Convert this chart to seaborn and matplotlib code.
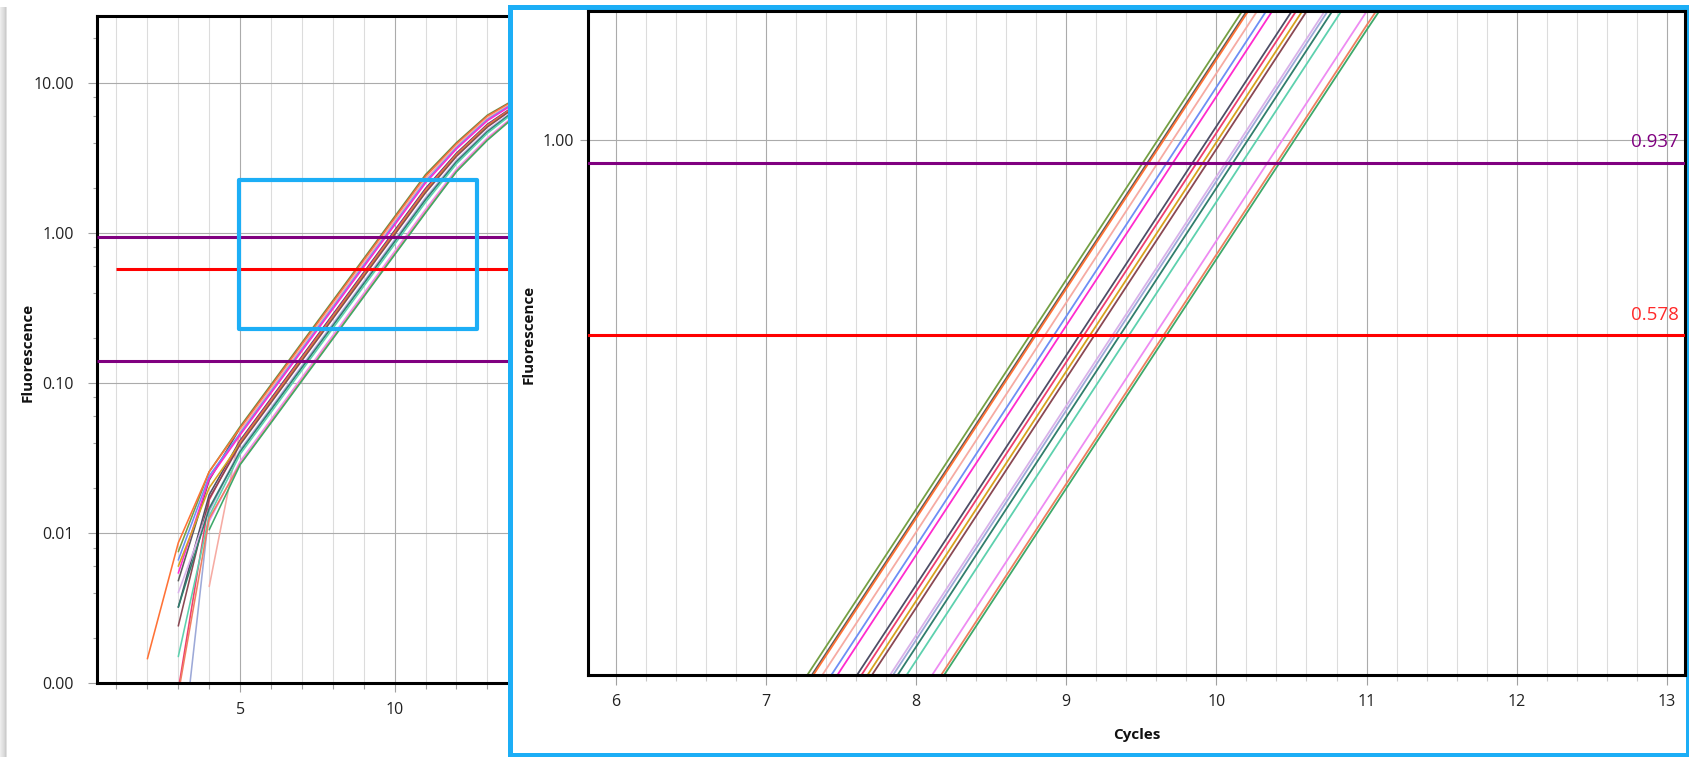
import numpy as np
import pandas as pd
import matplotlib
matplotlib.use("Agg")
import matplotlib.pyplot as plt
import matplotlib.transforms as mtransforms
from matplotlib.patches import Rectangle
from matplotlib.ticker import (FixedLocator, LogLocator, MultipleLocator,
                               FuncFormatter, NullLocator, NullFormatter)
import seaborn as sns

# ---------------------------------------------------------------------------
# Amplification data: fluorescence per cycle for each well (None = no point)
# ---------------------------------------------------------------------------
cycles = [2, 3, 4, 5, 6, 7, 8, 9, 10, 11, 12, 13, 14]

well_names = ["A1", "A2", "A3", "A4", "A5", "A6", "B1", "B2", "B3",
              "B4", "B5", "B6", "C1", "C2", "C3", "C4", "C5"]

A1 = [None, 0.0075, 0.0256, 0.0512, 0.0975, 0.186, 0.354, 0.675, 1.286, 2.45, 4.00, 6.10, 8.00]
A2 = [None, 0.0048, 0.0225, 0.0502, 0.0956, 0.1824, 0.3472, 0.662, 1.261, 2.403, 3.94, 6.02, 7.94]
A3 = [0.00145, 0.0086, 0.0256, 0.0499, 0.0950, 0.1813, 0.345, 0.658, 1.253, 2.388, 3.92, 6.00, 7.91]
A4 = [None, None, 0.0044, 0.0480, 0.0914, 0.1744, 0.3319, 0.6329, 1.206, 2.297, 3.81, 5.84, 7.78]
A5 = [None, 0.0066, 0.0240, 0.0462, 0.0879, 0.1678, 0.3193, 0.6089, 1.160, 2.210, 3.70, 5.70, 7.66]
A6 = [None, 0.0054, 0.0230, 0.0450, 0.0857, 0.1635, 0.3112, 0.5933, 1.130, 2.154, 3.63, 5.60, 7.57]
B1 = [None, 0.0032, 0.0180, 0.0414, 0.0788, 0.1503, 0.2861, 0.5456, 1.039, 1.980, 3.40, 5.30, 7.31]
B2 = [None, 0.0009, 0.0166, 0.0406, 0.0773, 0.1475, 0.2807, 0.5353, 1.020, 1.943, 3.35, 5.24, 7.25]
B3 = [None, 0.0060, 0.0200, 0.0396, 0.0753, 0.1437, 0.2735, 0.5216, 0.9937, 1.893, 3.29, 5.15, 7.17]
B4 = [None, 0.0024, 0.0170, 0.0388, 0.0739, 0.1410, 0.2683, 0.5116, 0.9746, 1.857, 3.24, 5.08, 7.12]
B5 = [None, 0.0040, 0.0146, 0.0359, 0.0684, 0.1305, 0.2483, 0.4735, 0.9021, 1.719, 3.05, 4.84, 6.89]
B6 = [None, 0.0002, 0.0140, 0.0355, 0.0675, 0.1288, 0.2451, 0.4674, 0.8906, 1.697, 3.02, 4.79, 6.85]
C1 = [None, 0.0032, 0.0146, 0.0348, 0.0662, 0.1263, 0.2404, 0.4585, 0.8735, 1.664, 2.98, 4.73, 6.80]
C2 = [None, 0.0015, 0.0130, 0.0335, 0.0637, 0.1215, 0.2313, 0.4411, 0.8404, 1.601, 2.89, 4.62, 6.68]
C3 = [None, None, 0.0120, 0.0300, 0.0571, 0.1089, 0.2073, 0.3953, 0.7531, 1.435, 2.66, 4.30, 6.38]
C4 = [None, 0.00085, 0.0125, 0.0288, 0.0549, 0.1048, 0.1994, 0.3802, 0.7244, 1.380, 2.58, 4.19, 6.28]
C5 = [None, None, 0.0105, 0.0285, 0.0542, 0.1034, 0.1969, 0.3754, 0.7152, 1.362, 2.56, 4.15, 6.25]

well_values = [A1, A2, A3, A4, A5, A6, B1, B2, B3, B4, B5, B6, C1, C2, C3, C4, C5]

well_colors = ["#74A044", "#5C5C5C", "#FF7236", "#F6ABA3", "#6E8EF5", "#FF2BCF",
               "#4E4E66", "#EE3F6E", "#D8A21E", "#8A4853", "#D9B2EA", "#9DA9D8",
               "#2F7E6C", "#5DD1AE", "#EE8BF2", "#F07F60", "#3DA96A"]

# Threshold levels
threshold_upper = 0.937
threshold_red = 0.578
threshold_lower = 0.141

y_tick_values = [0.001, 0.01, 0.1, 1.0, 10.0]

# ---------------------------------------------------------------------------
rows = []
for name, vals in zip(well_names, well_values):
    for c, v in zip(cycles, vals):
        if v is not None:
            rows.append({"well": name, "cycle": c, "fluorescence": v})
df = pd.DataFrame(rows)
palette = dict(zip(well_names, well_colors))

sns.set_theme(style="white")
plt.rcParams["font.family"] = ["Open Sans", "DejaVu Sans"]

W, H = 1690, 757
fig = plt.figure(figsize=(W / 100, H / 100), dpi=100, facecolor="white")

GRID_MAJOR = "#ABABAB"
GRID_MINOR = "#DCDCDC"
TXT = "#222222"
PURPLE = "#800080"
RED = "#FF0000"
BLUE = "#1CAEF6"


def px_box(left, top, right, bottom):
    return [left / W, 1 - bottom / H, (right - left) / W, (bottom - top) / H]


def style_spines(ax):
    for s in ax.spines.values():
        s.set_visible(True)
        s.set_color("black")
        s.set_linewidth(2.2)


# ---------------- main amplification plot ----------------
ax1 = fig.add_axes(px_box(97, 15.7, 595.6, 683))
ax1.set_zorder(0)
ax1.set_yscale("log")
sns.lineplot(data=df, x="cycle", y="fluorescence", hue="well", palette=palette,
             estimator=None, legend=False, linewidth=1.15, ax=ax1, zorder=2)
ax1.set_xlim(0.37, 16.5)
ax1.set_ylim(0.001, 28.05)
ax1.yaxis.set_major_locator(FixedLocator(y_tick_values))
ax1.yaxis.set_major_formatter(FuncFormatter(lambda v, p: f"{v:.2f}"))
ax1.yaxis.set_minor_locator(LogLocator(base=10, subs=(2, 4, 6, 8)))
ax1.yaxis.set_minor_formatter(NullFormatter())
ax1.xaxis.set_major_locator(MultipleLocator(5))
ax1.xaxis.set_minor_locator(MultipleLocator(1))
ax1.grid(which="major", axis="both", color=GRID_MAJOR, linewidth=0.8, zorder=0)
ax1.grid(which="minor", axis="x", color=GRID_MINOR, linewidth=0.8, zorder=0)
ax1.set_axisbelow(True)
ax1.tick_params(axis="y", which="major", direction="out", length=6.5, width=0.8,
                color="#A0A0A0", labelsize=11.5, labelcolor=TXT, pad=10, left=True)
ax1.tick_params(axis="y", which="minor", direction="out", length=3, width=0.8,
                color="#A0A0A0", left=True)
ax1.tick_params(axis="x", which="major", direction="out", length=6.5, width=0.8,
                color="#A0A0A0", labelsize=11.5, labelcolor=TXT, pad=7, bottom=True)
ax1.tick_params(axis="x", which="minor", direction="out", length=4, width=0.8,
                color="#A0A0A0", bottom=True)
ax1.set_xlabel("")
ax1.set_ylabel("")
style_spines(ax1)
ax1.spines["right"].set_visible(False)

ax1.hlines(threshold_upper, 0.37, 16.5, color=PURPLE, linewidth=2.2, zorder=4)
ax1.hlines(threshold_lower, 0.37, 16.5, color=PURPLE, linewidth=2.2, zorder=4)
ax1.hlines(threshold_red, 1.0, 16.5, color=RED, linewidth=2.2, zorder=4)

# zoom window outline on the main plot
ax1.add_patch(Rectangle((4.95, 0.2297), 12.67 - 4.95, 2.24 - 0.2297, fill=False,
                        edgecolor=BLUE, linewidth=3.0, joinstyle="round", zorder=5))

fig.text(28 / W, 1 - 352 / H, "Fluorescence", rotation=90, ha="center", va="center",
         fontsize=11, fontweight="bold", color="#111111")

# ---------------- zoom panel ----------------
fig.add_artist(Rectangle((510 / W, 1 - 755 / H), (1688 - 510) / W, (755 - 6.7) / H,
                         transform=fig.transFigure, facecolor="white", edgecolor=BLUE,
                         linewidth=3.6, zorder=1))

ax2 = fig.add_axes(px_box(588, 11, 1684.5, 675))
ax2.set_zorder(2)
ax2.set_yscale("log")
sns.lineplot(data=df, x="cycle", y="fluorescence", hue="well", palette=palette,
             estimator=None, legend=False, linewidth=1.3, ax=ax2, zorder=2)
ax2.set_xlim(5.816, 13.117)
ax2.set_ylim(0.2222, 1.437)
ax2.yaxis.set_major_locator(FixedLocator([1.0]))
ax2.yaxis.set_major_formatter(FuncFormatter(lambda v, p: f"{v:.2f}"))
ax2.yaxis.set_minor_locator(NullLocator())
ax2.xaxis.set_major_locator(MultipleLocator(1))
ax2.xaxis.set_minor_locator(MultipleLocator(0.2))
ax2.grid(which="major", axis="both", color=GRID_MAJOR, linewidth=0.8, zorder=0)
ax2.grid(which="minor", axis="x", color=GRID_MINOR, linewidth=0.8, zorder=0)
ax2.set_axisbelow(True)
ax2.tick_params(axis="y", which="major", direction="out", length=6, width=0.8,
                color="#A0A0A0", labelsize=11.5, labelcolor=TXT, pad=4, left=True)
ax2.tick_params(axis="x", which="major", direction="out", length=7, width=0.8,
                color="#A0A0A0", labelsize=11.5, labelcolor=TXT, pad=7, bottom=True)
ax2.tick_params(axis="x", which="minor", direction="out", length=4, width=0.8,
                color="#C8C8C8", bottom=True)
ax2.set_xlabel("")
ax2.set_ylabel("")
style_spines(ax2)

ax2.axhline(threshold_upper, color=PURPLE, linewidth=2.2, zorder=4)
ax2.axhline(threshold_red, color=RED, linewidth=2.2, zorder=4)

blend = mtransforms.blended_transform_factory(ax2.transAxes, ax2.transData)
ax2.annotate(f"{threshold_upper:.3f}", xy=(0.9946, threshold_upper), xycoords=blend,
             xytext=(0, 11.3), textcoords="offset points", ha="right", va="baseline",
             fontsize=13.5, color=PURPLE, zorder=6)
ax2.annotate(f"{threshold_red:.3f}", xy=(0.9946, threshold_red), xycoords=blend,
             xytext=(0, 10.8), textcoords="offset points", ha="right", va="baseline",
             fontsize=13.5, color="#FF2A2A", zorder=6)

fig.text(529 / W, 1 - 334 / H, "Fluorescence", rotation=90, ha="center", va="center",
         fontsize=11, fontweight="bold", color="#111111", zorder=3)
fig.text(1137 / W, 1 - 735 / H, "Cycles", ha="center", va="center",
         fontsize=11, fontweight="bold", color="#111111", zorder=3)

# soft window shadow along the left edge
ax_sh = fig.add_axes([0, 0, 9 / W, 1 - 7 / H])
ax_sh.imshow(np.array([[0.93, 0.91, 0.89, 0.87, 0.84, 0.80, 0.88, 1.0, 1.0]]),
             cmap="gray", vmin=0, vmax=1, aspect="auto", interpolation="bilinear")
ax_sh.set_axis_off()

fig.savefig("out.png", dpi=100, facecolor="white")
